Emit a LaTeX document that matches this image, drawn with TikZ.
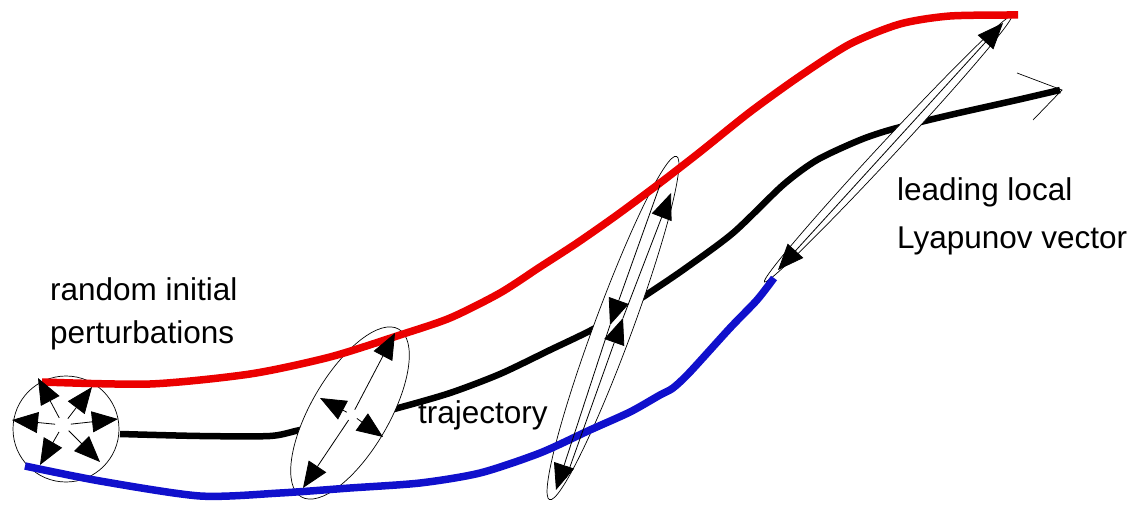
\documentclass[tikz,border=0pt]{standalone}
\usepackage{fontspec}
\setmainfont{Liberation Sans}
\usetikzlibrary{arrows.meta,shapes.geometric,calc}
\definecolor{myred}{RGB}{235,0,0}
\definecolor{myblue}{RGB}{16,16,204}
\begin{document}
\begin{tikzpicture}[x=1pt,y=-1pt,
  traj/.style={line width=7.5pt,line cap=butt,line join=round},
  blob/.style={draw,ellipse,fill=white,inner sep=0pt,line width=0.7pt},
  vec/.style={line width=0.8pt,-{Triangle[length=26pt,width=21pt]}},
  dvec/.style={line width=0.8pt,{Triangle[length=26pt,width=21pt]}-{Triangle[length=26pt,width=21pt]}},
  lbl/.style={font=\fontsize{31.5}{36}\selectfont,anchor=base west,inner sep=0pt}]
\useasboundingbox (0,0) rectangle (1131,505);

% black trajectory
\draw[traj,black,line width=6.5pt] plot[smooth,tension=0.45] coordinates {(120,434) (200,436) (270,436) (300,430) (350,420) (398,408) (450,393) (500,374) (550,350) (597,327) (643,297) (683,270) (733,233) (783,185) (817,160) (860,140) (893,129) (950,115) (1017,100) (1060,90)};
\coordinate (bend) at (1062,90);
\coordinate (bh1) at (1017,73);
\coordinate (bh2) at (1033,120);
\draw[line width=0.7pt] (bh1) -- (bend) -- (bh2);

% perturbation blobs
\node[blob,circle,minimum size=106pt] (c1) at (66,429) {};
\node[blob,minimum width=194pt,minimum height=78pt,rotate=59.8] (e2) at (350,413) {};
\node[blob,minimum width=366pt,minimum height=38pt,rotate=69.7] (e3) at (613,328) {};
\node[blob,minimum width=363pt,minimum height=16pt,rotate=47.1] (e4) at (888,149) {};

% red and blue trajectories
\draw[traj,myred] plot[smooth,tension=0.45] coordinates {(42,382) (150,384) (250,374) (330,357) (400,335) (450,318) (500,293) (540,267) (577,243) (617,215) (660,183) (700,152) (750,112) (800,76) (850,44) (900,24) (950,16) (1018,15)};
\draw[traj,myblue] plot[smooth,tension=0.45] coordinates {(25,466) (100,481) (200,496) (280,493) (350,488) (420,483) (480,473) (540,453) (590,430) (630,412) (660,395) (673,388) (690,372) (730,328) (757,300) (774,278)};

% initial perturbations
\coordinate (c0) at (63,425);
\foreach \tx/\ty [count=\i] in {38/378, 92/387, 118/419, 12/420, 40/465, 100/462} {
  \coordinate (t\i) at (\tx,\ty);
  \draw[vec] ($(c0)!8pt!(t\i)$) -- (t\i);
}

% ellipse 2 axes
\coordinate (e2c) at (352,415);
\coordinate (e2a) at (395,333);
\coordinate (e2b) at (303,488);
\coordinate (e2d) at (320,398);
\coordinate (e2e) at (383,437);
\draw[vec] ($(e2c)!6pt!(e2a)$) -- (e2a);
\draw[vec] ($(e2c)!6pt!(e2b)$) -- (e2b);
\draw[vec] ($(e2c)!6pt!(e2d)$) -- (e2d);
\draw[vec] ($(e2c)!6pt!(e2e)$) -- (e2e);

% ellipse 3 axes
\coordinate (l1) at (660,185);
\coordinate (l2) at (610,325);
\coordinate (l3) at (556,490);
\coordinate (r1) at (566,478);
\coordinate (r2) at (623,318);
\coordinate (r3) at (671,193);
\draw[vec] (l1) -- (l2);
\draw[vec] (l2) -- (l3);
\draw[vec] (r1) -- (r2);
\draw[vec] (r2) -- (r3);

% leading local Lyapunov vector
\coordinate (v1) at (778,270);
\coordinate (v2) at (1003,23);
\draw[dvec] (v1) -- (v2);

% labels
\node[lbl] (tr) at (50,300) {random initial};
\node[lbl] (tp) at (50,343) {perturbations};
\node[lbl] (tt) at (418,423) {trajectory};
\node[lbl] (tl) at (897,200) {leading local};
\node[lbl] (tv) at (897,248) {Lyapunov vector};
\end{tikzpicture}
\end{document}
